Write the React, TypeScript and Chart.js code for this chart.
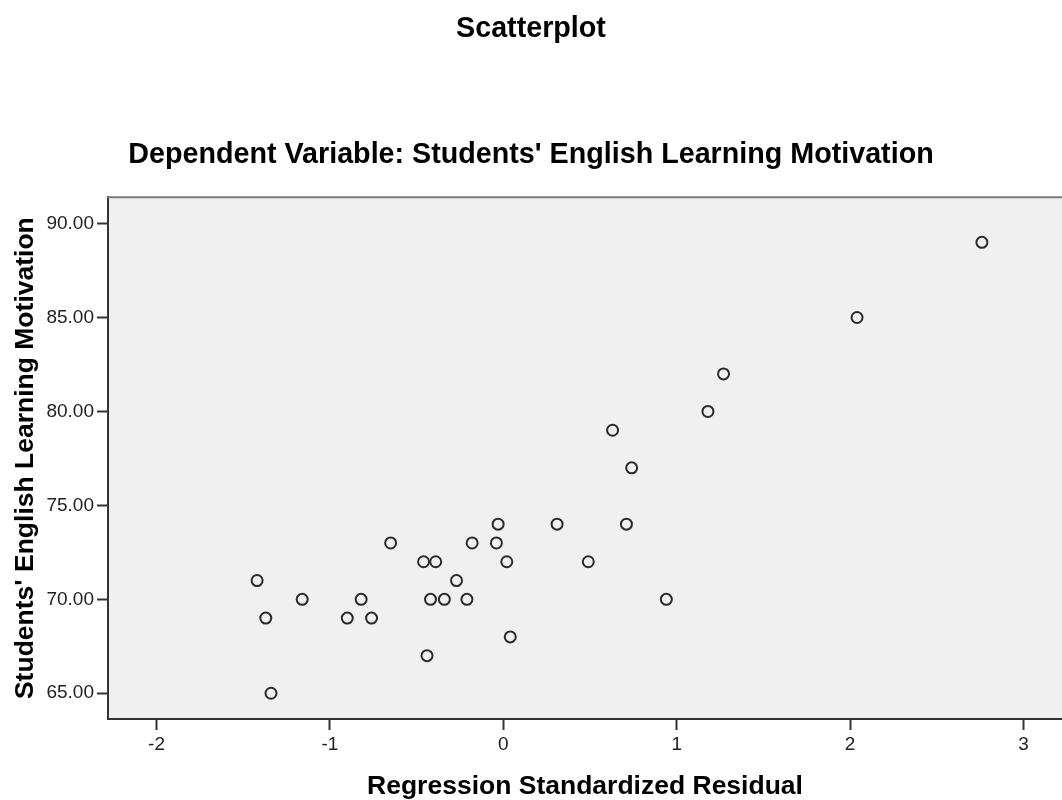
import React, { useEffect, useRef } from "react";
import { Chart, registerables } from "chart.js";

Chart.register(...registerables);

const residuals: number[] = [
  -1.42, -1.37, -1.34, -1.16, -0.9, -0.82, -0.76, -0.65, -0.46, -0.39,
  -0.44, -0.42, -0.34, -0.27, -0.21, -0.18, -0.04, -0.03, 0.02, 0.04,
  0.31, 0.49, 0.71, 0.63, 0.74, 0.94, 1.18, 1.27, 2.04, 2.76,
];
const motivation: number[] = [
  71, 69, 65, 70, 69, 70, 69, 73, 72, 72,
  67, 70, 70, 71, 70, 73, 73, 74, 72, 68,
  74, 72, 74, 79, 77, 70, 80, 82, 85, 89,
];
const xTicks: number[] = [-2, -1, 0, 1, 2, 3];
const yTicks: number[] = [65, 70, 75, 80, 85, 90];

const mainTitle = "Scatterplot";
const subTitle = "Dependent Variable: Students' English Learning Motivation";
const xTitle = "Regression Standardized Residual";
const yTitle = "Students' English Learning Motivation";

const FONT = "'Liberation Sans', Arial, sans-serif";

const plotDecor = {
  id: "plotDecor",
  beforeDraw(chart: any) {
    const { ctx, chartArea } = chart;
    ctx.save();
    ctx.fillStyle = "#f0f0f0";
    ctx.fillRect(chartArea.left, chartArea.top, chartArea.right - chartArea.left, chartArea.bottom - chartArea.top);
    ctx.restore();
  },
  afterDraw(chart: any) {
    const { ctx, chartArea } = chart;
    ctx.save();
    ctx.strokeStyle = "#7a7a7a";
    ctx.lineWidth = 2;
    ctx.beginPath();
    ctx.moveTo(chartArea.left - 1, chartArea.top);
    ctx.lineTo(chartArea.right, chartArea.top);
    ctx.stroke();
    ctx.restore();
  },
};

export default function App() {
  const ref = useRef<HTMLCanvasElement | null>(null);

  useEffect(() => {
    if (!ref.current) return;
    const points = residuals.map((x, i) => ({ x, y: motivation[i] }));
    const chart = new Chart(ref.current, {
      type: "scatter",
      data: {
        datasets: [
          {
            data: points,
            pointRadius: 5.5,
            pointBorderWidth: 2,
            pointBorderColor: "#2a2a2a",
            pointBackgroundColor: "rgba(0,0,0,0)",
            pointHoverRadius: 5.5,
          },
        ],
      },
      options: {
        animation: false,
        responsive: false,
        layout: { autoPadding: false, padding: { left: 0, right: 0, top: 0, bottom: 0 } },
        plugins: {
          legend: { display: false },
          tooltip: { enabled: false },
          title: {
            display: true,
            text: mainTitle,
            color: "#000",
            font: { family: FONT, size: 28.7, weight: "bold", lineHeight: 1.2 },
            padding: { top: 12, bottom: 91 },
          },
          subtitle: {
            display: true,
            text: subTitle,
            color: "#000",
            font: { family: FONT, size: 28.7, weight: "bold", lineHeight: 1.2 },
            padding: { top: 0, bottom: 25.4 },
          },
        },
        scales: {
          x: {
            type: "linear",
            min: -2.28,
            max: 3.222,
            afterFit(scale: any) {
              scale.height = 81;
            },
            afterBuildTicks(scale: any) {
              scale.ticks = xTicks.map((v) => ({ value: v }));
            },
            ticks: {
              color: "#222",
              font: { family: FONT, size: 19 },
              padding: 3,
              maxRotation: 0,
              callback: (v: any) => String(v),
            },
            grid: {
              display: true,
              drawOnChartArea: false,
              drawTicks: true,
              tickLength: 11,
              tickWidth: 2,
              tickColor: "#333",
            },
            border: { display: true, color: "#333", width: 2 },
            title: {
              display: true,
              text: xTitle,
              color: "#000",
              font: { family: FONT, size: 26.5, weight: "bold", lineHeight: 1.0 },
              padding: { top: 0, bottom: 0 },
            },
          },
          y: {
            type: "linear",
            min: 63.63,
            max: 91.4,
            afterFit(scale: any) {
              scale.width = 108;
            },
            afterBuildTicks(scale: any) {
              scale.ticks = yTicks.map((v) => ({ value: v }));
            },
            ticks: {
              color: "#222",
              font: { family: FONT, size: 19 },
              padding: 3,
              callback: (v: any) => Number(v).toFixed(2),
            },
            grid: {
              display: true,
              drawOnChartArea: false,
              drawTicks: true,
              tickLength: 11,
              tickWidth: 2,
              tickColor: "#333",
            },
            border: { display: true, color: "#333", width: 2 },
            title: {
              display: true,
              text: yTitle,
              color: "#000",
              font: { family: FONT, size: 26.5, weight: "bold", lineHeight: 1.2 },
              padding: { top: 10, bottom: 0 },
            },
          },
        },
      },
      plugins: [plotDecor],
    });
    return () => chart.destroy();
  }, []);

  return (
    <div style={{ position: "absolute", left: 0, top: 0, width: 1062, height: 800, background: "#fff", overflow: "hidden" }}>
      <canvas ref={ref} width={1062} height={800} style={{ display: "block", width: 1062, height: 800 }} />
    </div>
  );
}
